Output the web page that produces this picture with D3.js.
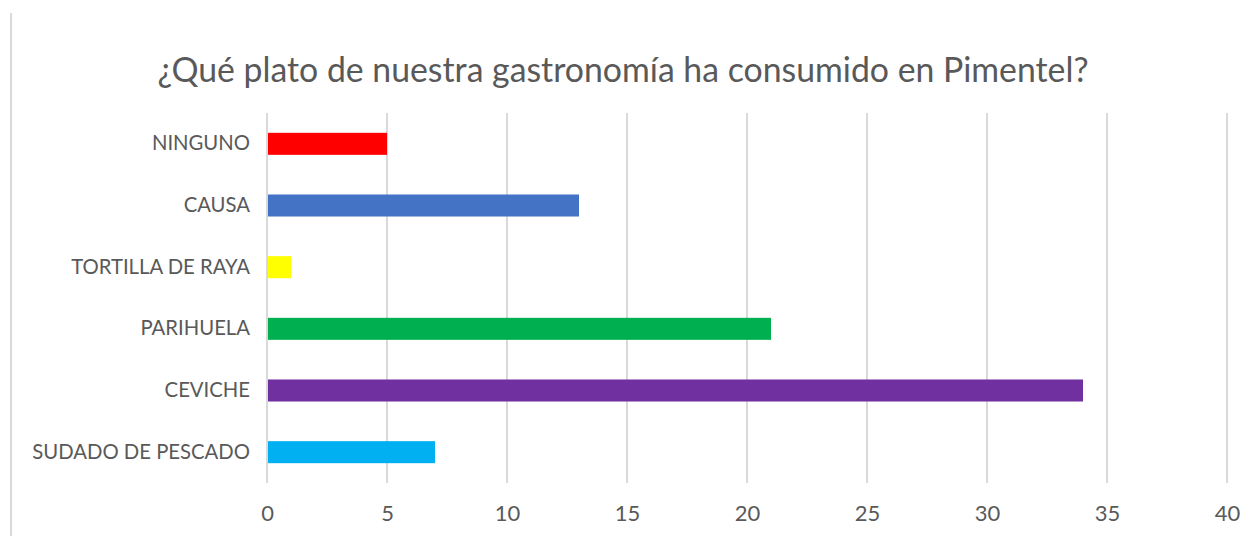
<!DOCTYPE html>
<html>
<head>
<meta charset="utf-8">
<script src="https://cdn.jsdelivr.net/npm/d3@7"></script>
<style>
  body { margin: 0; background: #fff; }
  svg { display: block; font-family: Lato, "Open Sans", sans-serif; }
</style>
</head>
<body>
<div id="chart"></div>
<script>
// datos del gráfico
const categorias = ["NINGUNO", "CAUSA", "TORTILLA DE RAYA", "PARIHUELA", "CEVICHE", "SUDADO DE PESCADO"];
const valores = [5, 13, 1, 21, 34, 7];
const colores = ["#FF0000", "#4472C4", "#FFFF00", "#00B050", "#7030A0", "#00B0F0"];
const ticksX = [0, 5, 10, 15, 20, 25, 30, 35, 40];
const titulo = "¿Qué plato de nuestra gastronomía ha consumido en Pimentel?";

const width = 1251, height = 536;
const margin = { top: 113, right: 24, bottom: 53, left: 267 };

const svg = d3.select("#chart").append("svg")
  .attr("width", width)
  .attr("height", height);

// borde izquierdo del gráfico
svg.append("line")
  .attr("x1", 11).attr("x2", 11)
  .attr("y1", 13).attr("y2", height)
  .attr("stroke", "#d9d9d9").attr("stroke-width", 2);

const x = d3.scaleLinear().domain([0, 40]).range([margin.left, width - margin.right]);
const y = d3.scaleBand().domain(categorias)
  .range([margin.top, height - margin.bottom])
  .paddingInner(0.643).paddingOuter(0.3215);

// líneas de cuadrícula
svg.append("g").selectAll("line")
  .data(ticksX)
  .join("line")
  .attr("x1", d => x(d)).attr("x2", d => x(d))
  .attr("y1", margin.top).attr("y2", height - margin.bottom)
  .attr("stroke", "#d9d9d9").attr("stroke-width", 2);

// barras
svg.append("g").selectAll("rect")
  .data(categorias)
  .join("rect")
  .attr("x", x(0) + 1)
  .attr("y", d => y(d))
  .attr("width", (d, i) => x(valores[i]) - x(0) - 1)
  .attr("height", y.bandwidth())
  .attr("fill", (d, i) => colores[i]);

// eje x
const ejeX = svg.append("g")
  .attr("transform", `translate(0,${height - margin.bottom})`)
  .call(d3.axisBottom(x).tickValues(ticksX).tickSize(0).tickPadding(22));
ejeX.select(".domain").remove();
ejeX.selectAll("text").attr("font-size", 22).attr("fill", "#595959")
  .attr("font-family", "Lato, sans-serif");

// eje y
const ejeY = svg.append("g")
  .attr("transform", `translate(${margin.left},0)`)
  .call(d3.axisLeft(y).tickSize(0).tickPadding(17));
ejeY.select(".domain").remove();
ejeY.selectAll("text").attr("font-size", 20.3).attr("fill", "#595959")
  .attr("font-family", "Lato, sans-serif");

// título
svg.append("text")
  .attr("x", 623)
  .attr("y", 82)
  .attr("text-anchor", "middle")
  .attr("font-size", 33.8)
  .attr("fill", "#595959")
  .text(titulo);
</script>
</body>
</html>
